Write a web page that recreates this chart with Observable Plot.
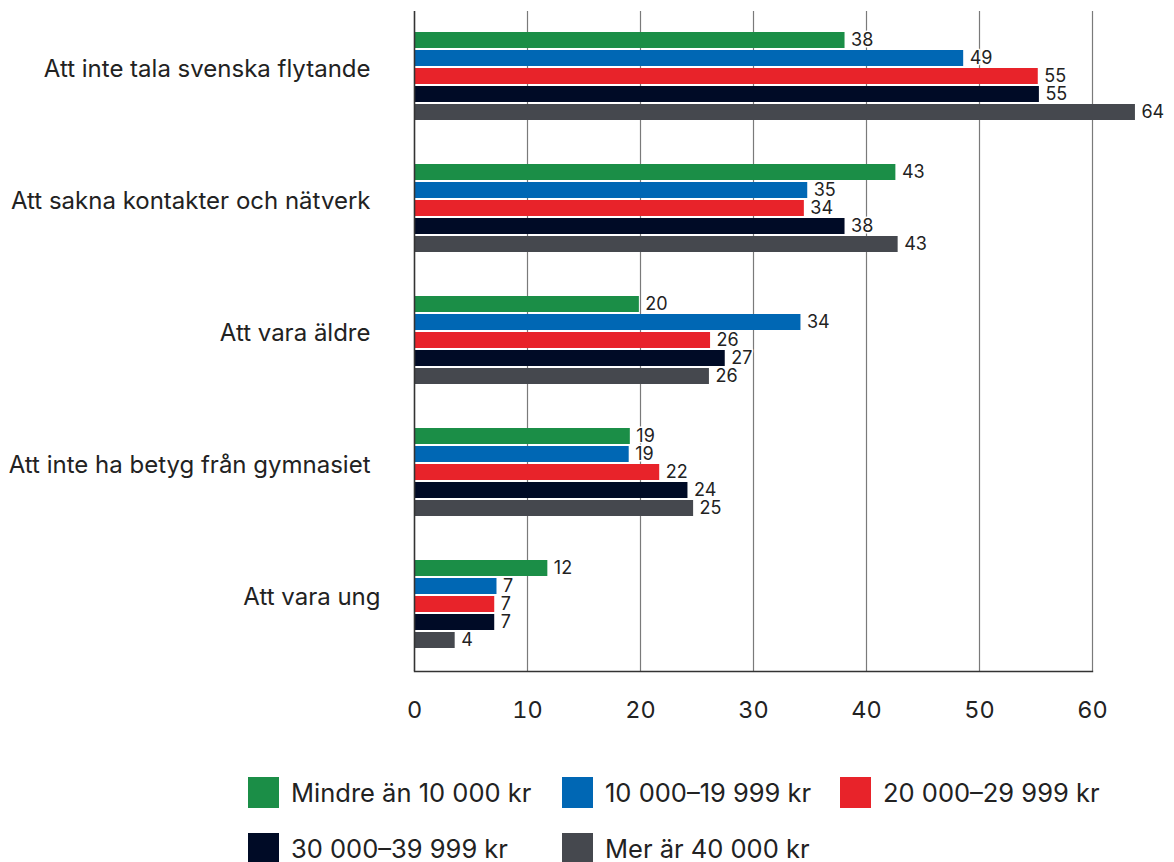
<!DOCTYPE html>
<html>
<head>
<meta charset="utf-8">
<script src="https://cdn.jsdelivr.net/npm/d3@7"></script>
<script src="https://cdn.jsdelivr.net/npm/@observablehq/plot@0.6"></script>
<style>
  html, body { margin: 0; padding: 0; background: #fff; }
  body { width: 1174px; font-family: Inter, "Noto Sans", sans-serif; color: #222; }
  #chart svg { display: block; }
  #legend {
    margin-left: 248px;
    padding-top: 27px;
    display: grid;
    grid-template-columns: 314px 278px auto;
    row-gap: 25px;
  }
  .item { display: flex; align-items: center; height: 31px; }
  .sw { width: 31px; height: 31px; margin-right: 12px; flex: none; }
  .lab { font-size: 25.5px; color: #222; white-space: nowrap; }
</style>
</head>
<body>
<div id="chart"></div>
<div id="legend"></div>
<script>
const categories = [
  "Att inte tala svenska flytande",
  "Att sakna kontakter och nätverk",
  "Att vara äldre",
  "Att inte ha betyg från gymnasiet",
  "Att vara ung"
];
const series = [
  "Mindre än 10 000 kr",
  "10 000–19 999 kr",
  "20 000–29 999 kr",
  "30 000–39 999 kr",
  "Mer är 40 000 kr"
];
const colors = ["#1b8e47", "#0067b4", "#e8232a", "#000b26", "#45484e"];

// bar values per income series (one per category, in category order)
const valuesMindre10 = [38.1, 42.6, 19.9, 19.1, 11.8];
const values10to20   = [48.6, 34.8, 34.2, 19.0, 7.3];
const values20to30   = [55.2, 34.5, 26.2, 21.7, 7.1];
const values30to40   = [55.3, 38.1, 27.5, 24.2, 7.1];
const valuesOver40   = [63.8, 42.8, 26.1, 24.7, 3.6];

// printed labels
const labelsMindre10 = [38, 43, 20, 19, 12];
const labels10to20   = [49, 35, 34, 19, 7];
const labels20to30   = [55, 34, 26, 22, 7];
const labels30to40   = [55, 38, 27, 24, 7];
const labelsOver40   = [64, 43, 26, 25, 4];

const xTicks = [0, 10, 20, 30, 40, 50, 60];

const allValues = [valuesMindre10, values10to20, values20to30, values30to40, valuesOver40];
const allLabels = [labelsMindre10, labels10to20, labels20to30, labels30to40, labelsOver40];

const rows = [];
categories.forEach((c, ci) => {
  series.forEach((s, si) => {
    rows.push({cat: c, series: s, value: allValues[si][ci], label: String(allLabels[si][ci])});
  });
});

const plot = Plot.plot({
  width: 1174,
  height: 750,
  marginLeft: 414,
  marginRight: 82,
  marginTop: 10,
  marginBottom: 78,
  style: {fontFamily: "Inter, 'Noto Sans', sans-serif", color: "#222", background: "#fff"},
  x: {domain: [0, 60], axis: null},
  fy: {domain: categories, padding: 0, axis: null},
  y: {domain: series, padding: 0.1, insetTop: 18, insetBottom: 19, axis: null},
  color: {domain: series, range: colors},
  marks: [
    Plot.ruleX(xTicks.slice(1), {stroke: "#7a7a7a", strokeWidth: 1.2}),
    Plot.barX(rows, {fy: "cat", y: "series", x: "value", fill: "series"}),
    Plot.text(rows, {
      fy: "cat", y: "series", x: "value", text: "label",
      textAnchor: "start", dx: 6, fontSize: 18, fill: "#222",
      stroke: "white", strokeWidth: 3, paintOrder: "stroke"
    }),
    Plot.ruleX([0], {stroke: "#333", strokeWidth: 1.6}),
    Plot.frame({anchor: "bottom", stroke: "#333", strokeWidth: 1.4, facet: "super"}),
    Plot.axisFy({ticks: categories.slice(0, 4), anchor: "left", tickSize: 0, tickPadding: 44, dy: -8, fontSize: 24, label: null, fill: "#222"}),
    Plot.axisFy({ticks: categories.slice(4), anchor: "left", tickSize: 0, tickPadding: 34, dy: -8, fontSize: 24, label: null, fill: "#222"}),
    Plot.axisX({anchor: "bottom", ticks: xTicks, tickSize: 0, tickPadding: 30, fontSize: 23.5, label: null, fill: "#222"})
  ]
});
document.getElementById("chart").appendChild(plot);

const legend = document.getElementById("legend");
series.forEach((s, i) => {
  const item = document.createElement("div");
  item.className = "item";
  const sw = document.createElement("span");
  sw.className = "sw";
  sw.style.background = colors[i];
  const lab = document.createElement("span");
  lab.className = "lab";
  lab.textContent = s;
  item.appendChild(sw);
  item.appendChild(lab);
  legend.appendChild(item);
});
</script>
</body>
</html>
